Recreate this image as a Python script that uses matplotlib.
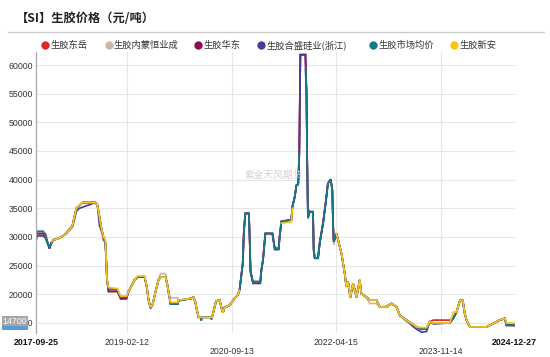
import numpy as np
import pandas as pd
import matplotlib
matplotlib.use('Agg')
import matplotlib.pyplot as plt
from matplotlib.lines import Line2D
from matplotlib.patches import Rectangle
from matplotlib.transforms import blended_transform_factory

nan = np.nan

dates = ['2017-09-25','2017-09-28','2017-11-03','2017-11-15','2017-11-26','2017-12-07','2017-12-18','2017-12-29','2018-01-20','2018-02-11',
 '2018-03-05','2018-03-27','2018-04-13','2018-04-24','2018-05-05','2018-05-22','2018-06-08','2018-08-19','2018-08-30','2018-09-10',
 '2018-09-21','2018-10-02','2018-10-13','2018-10-22','2018-10-30','2018-12-19','2019-01-05','2019-02-07','2019-02-18','2019-03-07',
 '2019-03-23','2019-04-09','2019-05-18','2019-05-29','2019-06-09','2019-06-20','2019-07-01','2019-07-18','2019-08-03','2019-08-14',
 '2019-09-11','2019-09-22','2019-10-03','2019-10-09','2019-11-17','2019-11-22','2020-02-02','2020-02-13','2020-02-24','2020-03-01',
 '2020-03-12','2020-03-23','2020-03-27','2020-04-01','2020-05-18','2020-05-22','2020-05-26','2020-06-03','2020-06-17','2020-07-07',
 '2020-07-18','2020-07-25','2020-08-03','2020-08-31','2020-09-28','2020-10-14','2020-10-25','2020-11-03','2020-11-12','2020-11-18',
 '2020-11-26','2020-12-16','2020-12-20','2020-12-25','2021-01-07','2021-02-17','2021-02-23','2021-03-04','2021-03-17','2021-04-25',
 '2021-05-02','2021-05-08','2021-05-30','2021-06-04','2021-06-14','2021-08-08','2021-08-14','2021-08-27','2021-09-05','2021-09-15',
 '2021-09-21','2021-09-27','2021-10-25','2021-10-31','2021-11-03','2021-11-08','2021-11-18','2021-12-06','2021-12-10','2021-12-16',
 '2022-01-03','2022-01-12','2022-01-31','2022-02-14','2022-02-27','2022-03-14','2022-03-23','2022-03-27','2022-03-31','2022-04-15',
 '2022-05-03','2022-05-13','2022-05-31','2022-06-09','2022-06-18','2022-07-01','2022-07-16','2022-08-04','2022-08-22','2022-08-31',
 '2022-09-28','2022-10-16','2022-11-23','2022-12-11','2023-01-17','2023-02-14','2023-03-14','2023-04-01','2023-05-08','2023-06-05',
 '2023-07-03','2023-07-30','2023-08-27','2023-09-14','2023-10-03','2024-01-03','2024-01-22','2024-02-09','2024-02-28','2024-03-15',
 '2024-03-26','2024-04-05','2024-04-23','2024-07-25','2024-08-30','2024-10-06','2024-11-03','2024-11-12','2024-12-27']

dongyue = [30000, 30600, 30600, 30600, 29200, 28000, 29000, 29500, 29700, 30000,
           30500, 31200, 32000, 33500, 35000, 35500, 36000, 36000, 35500, 33500,
           31500, 29500, 29000, 22500, 20500, 20500, 19500, 19500, 20500, 21500,
           22500, 23000, 23000, 21500, 19000, 17700, 18200, 20500, 22500, 23000,
           23000, 21500, 19500, 18300, 18300, 18900, 19300, 19500, 18500, 17500,
           16000, 16000, 16000, 16000, 16000, 16000, 16000, 17000, 18800, 19000,
           17500, 16800, 17700, 18100, 19300, 19800, 20700, 23000, 25400, 30900,
           34100, 34100, 30000, 23900, 22200, 22200, 24200, 26000, 30600, 30600,
           29200, 28000, 28000, 30000, 32700, 33000, 35300, 37000, 39000, 39200,
           44600, 61800, 61800, 55100, 45200, 34900, 34400, 34400, 27700, 26300,
           26300, 28900, 32700, 35900, 39400, 40000, 38200, 32400, 29200, 30600,
           28300, 27100, 23600, 21300, 22200, 19500, 21900, 19500, 22500, 20100,
           19500, 19000, 19000, 17800, 17800, 18400, 17800, 16300, 15500, 14900,
           14300, 13900, 14000, 15200, 15500, 15500, 15800, 16900, 18900, 18900,
           16600, 15500, 14300, 14300, 14900, 15500, 15800, 14600, 14600]

neimeng = [30000, 30600, 30600, 30000, 29000, 28300, 29000, 29500, 29700, 30000,
           30500, 31500, 32000, 33500, 35000, 35500, 36000, 36000, 35500, 33500,
           31500, 30000, 29000, 22500, 21000, 20800, 19500, 19500, 20500, 21500,
           22500, 23000, 23000, 21500, 19000, 17700, 18200, 20500, 22500, 23600,
           23600, 21500, 19500, 19400, 19400, 18900, 19300, 19500, 18500, 17500,
           16000, 16000, 16000, 16000, 16000, 16000, 16000, 17000, 18800, 19000,
           17500, 16800, 17700, 18100, 19300, 19800, 20700, 23000, 25400, 30900,
           34100, 34100, 30000, 24000, 22200, 22200, 24200, 26000, 30600, 30600,
           29200, 28000, 28000, 30000, 32700, 33000, 35300, 37000, 39000, 39200,
           44600, 61800, 61800, 55100, 45200, 33300, 34400, 34400, 27700, 26300,
           26300, 28900, 32400, 35900, 39400, 40000, 38200, 32400, 28600, 30600,
           28300, 27100, 23600, 21300, 22200, 19500, 21900, 19500, 22500, 20100,
           19500, 18400, 18400, 17800, 18000, 18400, 17800, 16300, 15200, 14900,
           14300, 13900, 14000, 15200, 14900, 15000, 15800, 16900, 18900, 18900,
           16600, 15500, 14300, 14300, 14900, 15500, 15800, 14600, 14400]

huadong = [30000, 30600, 30600, 30000, 29000, 28000, 29000, 29500, 29700, 30000,
           30500, 31200, 32000, 33500, 35000, 35500, 36000, 36000, 35500, 33500,
           31500, 30000, 29000, 22500, 20500, 20500, 19200, 19200, 20500, 21500,
           22500, 23000, 23000, 21500, 19000, 17700, 18200, 20500, 22500, 23000,
           23000, 21500, 19500, 18300, 18300, 18900, 19300, 19500, 18500, 17500,
           16000, 16000, 16000, 16000, 16000, 16000, 16000, 17000, 18800, 19000,
           17500, 16800, 17700, 18100, 19300, 19800, 20700, 23000, 25400, 30900,
           34100, 34100, 30000, 23900, 22200, 22200, 24200, 26000, 30600, 30600,
           29200, 28000, 28000, 30000, 32700, 33000, 35300, 37000, 39000, 39200,
           44600, 61800, 61800, 55100, 45200, 33300, 34400, 34400, 27700, 26300,
           26300, 28900, 32400, 35900, 39400, 40000, 38200, 32400, 29200, 30600,
           28300, 27100, 23600, 21300, 22200, 19500, 21900, 19500, 22500, 20100,
           19500, 19000, 19000, 17800, 17800, 18400, 17800, 16300, 15500, 14900,
           14300, 13900, 14000, 15200, 14900, 15000, 15800, 16900, 18900, 18900,
           16600, 15500, 14300, 14300, 14900, 15500, 15800, 14600, 14600]

hesheng = [29600, 30200, 30200, 29800, 29000, 28000, 29000, 29500, 29700, 30000,
           30500, 31200, 31800, 33000, 34500, 35000, 35200, 36000, 35500, 32000,
           31000, 30000, 29000, 22500, 21000, 20800, 19500, 19500, 20500, 21500,
           22500, 23000, 23000, 21500, 19000, 17500, 18200, 20500, 22500, 23000,
           23000, 21500, 19500, 18300, 18300, 18900, 19300, 19500, 18500, 17500,
           16000, 16000, 16000, 16000, 16000, 16000, 16000, 17000, 18800, 19000,
           17500, 16800, 17700, 18100, 19300, 19800, 20700, 23000, 25400, 30900,
           34100, 34100, 30000, 24000, 21900, 21900, 24200, 26000, 30600, 30600,
           29200, 27800, 27800, 30000, 32700, 33000, 35300, 37000, 39000, 39200,
           44600, 61800, 61800, 55100, 45200, 33300, 34400, 34400, 27700, 26300,
           26300, 28900, 32400, 35900, 39400, 40100, 38200, 32400, 29200, 30600,
           28300, 27100, 23600, 21300, 22200, 19500, 21900, 19500, 22500, 20100,
           19500, 19000, 19000, 17800, 17800, 18400, 17800, 16300, 15500, 14600,
           13900, 13400, 13500, 15200, 14900, 15000, 15800, 16900, 18900, 18900,
           16600, 15500, 14300, 14300, 14900, 15500, 15800, 14600, 14600]

junjia = [29500, 31000, 31000, 30000, 29000, 28300, 29000, 29500, 29700, 30000,
          30500, 31200, 32000, 33500, 35000, 35500, 36000, 36000, 35500, 33500,
          31500, 30000, 29000, 22500, 21000, 20800, 19500, 19500, 20500, 21500,
          22500, 23000, 23000, 21500, 19000, 17700, 18200, 20500, 22500, 23000,
          23000, 21500, 19500, 18300, 18300, 18900, 19300, 19500, 18500, 17500,
          16000, 16000, 15400, 16000, 16000, 15600, 16000, 17000, 18800, 19000,
          17500, 16800, 17700, 18100, 19300, 19800, 20700, 23000, 25400, 30900,
          34100, 34100, 30000, 24000, 22200, 22200, 24200, 26000, 30600, 30600,
          29200, 28000, 28000, 30000, 32700, 33000, 35300, 37000, 39000, 39200,
          44600, nan, 59200, 55100, 45200, 33300, 34400, 34400, 27700, 26300,
          26300, 28900, 32400, 35900, 39400, 40000, 38200, 32400, 29200, 30600,
          28300, 27100, 23600, 21300, 22200, 19500, 21900, 19500, 22500, 20100,
          19500, 19000, 19000, 17800, 17800, 18400, 17800, 16300, 15500, 14900,
          14300, 13900, 14000, 15200, 14900, 15000, 15800, 16900, 18900, 18900,
          16600, 15500, 14300, 14300, 14900, 15500, 15800, 14600, 14700]

xinan = [nan, nan, nan, nan, nan, nan, 29200, 29500, 29700, 30000,
         30500, 31200, 32000, 33500, 35000, 35500, 36000, 36000, 35500, 33500,
         31500, 30000, 29500, 22500, 21200, 21000, 19700, 19700, 20500, 21500,
         22500, 23200, 23200, 21500, 19000, 17700, 18200, 20500, 22500, 23000,
         23000, 21500, 19500, 18600, 18600, 19000, 19300, 19500, 18500, 17500,
         16000, 16000, 16000, 16000, 16000, 16000, 16000, 17000, 18800, 19000,
         17500, 16800, 17700, 18100, 19300, 19800, 20700, nan, nan, nan,
         nan, nan, nan, nan, nan, nan, nan, nan, nan, nan,
         nan, nan, nan, nan, 32400, 32600, 35000, nan, nan, nan,
         nan, nan, nan, nan, nan, nan, nan, nan, nan, nan,
         nan, nan, nan, nan, nan, nan, nan, nan, nan, 30600,
         28300, 27100, 23600, 21300, 22200, 19500, 21900, 19500, 22500, 20100,
         19500, 19000, 19000, 17800, 17800, 18400, 17800, 16300, 15500, 14900,
         14300, 14200, 14200, 15200, 15000, 15000, 16900, 16900, 18900, 18900,
         16600, 15500, 14300, 14300, 14900, 15500, 15800, 15000, 15000]

series_names = ['生胶东岳', '生胶内蒙恒业成', '生胶华东', '生胶合盛硅业(浙江)', '生胶市场均价', '生胶新安']
series_colors = ['#d62a2e', '#c8b9a2', '#8c0c52', '#4a3d9a', '#127c86', '#fbc31c']
series_values = [dongyue, neimeng, huadong, hesheng, junjia, xinan]

x_labels = ['2017-09-25', '2019-02-12', '2020-09-13', '2022-04-15', '2023-11-14', '2024-12-27']
y_ticks = [15000, 20000, 25000, 30000, 35000, 40000, 45000, 50000, 55000, 60000]

title = '【SI】生胶价格（元/吨）'
watermark = '紫金天风期货'

CJK = ['Noto Sans CJK SC', 'DejaVu Sans']
LAT = ['Liberation Sans', 'DejaVu Sans']

W, H = 550, 357
fig = plt.figure(figsize=(W / 100, H / 100), dpi=100)
fig.patch.set_facecolor('white')

def fx(px):
    return px / W

def fy(py):
    return 1 - py / H

ax = fig.add_axes([fx(36.3), fy(333), fx(514.6) - fx(36.3), fy(52) - fy(333)])
d = pd.to_datetime(dates)
for vals, col, nm in zip(series_values, series_colors, series_names):
    ax.plot(d, vals, color=col, lw=1.25, solid_joinstyle='miter', label=nm)

ax.set_xlim(pd.Timestamp(x_labels[0]), pd.Timestamp(x_labels[-1]))
ax.set_ylim(13250, 62270)
ax.set_yticks(y_ticks)
ax.set_yticklabels([str(v) for v in y_ticks], fontsize=6.3, family=LAT, color='#333333')
ax.tick_params(axis='y', length=0, pad=2.5)
ax.set_xticks(pd.to_datetime(x_labels[1:-1]))
ax.tick_params(axis='x', length=0, labelbottom=False)
ax.grid(True, color='#e6e6e6', lw=0.8)
ax.set_axisbelow(True)
for s in ['top', 'right', 'bottom']:
    ax.spines[s].set_visible(False)
ax.spines['left'].set_color('#aaaaaa')
ax.spines['left'].set_linewidth(0.9)

# x labels in two rows
tr = blended_transform_factory(ax.transData, fig.transFigure)
rows = [342.3, 342.3, 351.3, 342.3, 351.3, 342.3]
for i, (lab, ry) in enumerate(zip(x_labels, rows)):
    bold = i == 0 or i == len(x_labels) - 1
    ax.text(pd.Timestamp(lab), fy(ry), lab, transform=tr, ha='center', va='center',
            fontsize=6.3, family=LAT, color='#111111' if bold else '#333333',
            fontweight='bold' if bold else 'normal', clip_on=False)

# title and separator
fig.text(fx(16), fy(18), title, fontsize=8.8, fontweight='bold', family=CJK,
         color='#222222', ha='left', va='center')
fig.add_artist(Line2D([fx(8), fx(544)], [fy(31.7), fy(31.7)], color='#c8c8c8', lw=0.9,
                      transform=fig.transFigure))

# legend
circ_x = [45, 108.5, 198, 260.6, 373, 454]
for cx, col, nm in zip(circ_x, series_colors, series_names):
    fig.add_artist(Line2D([fx(cx)], [fy(45)], marker='o', markersize=6.0, color=col,
                          markeredgewidth=0, linestyle='none', transform=fig.transFigure))
    fig.text(fx(cx + 5.5), fy(45), nm, fontsize=6.7, family=CJK, color='#333333',
             ha='left', va='center')

# watermark
fig.text(fx(274), fy(175), watermark, fontsize=7, family=CJK, color='#d2d2d2',
         ha='center', va='center')

# last value marker label on the y axis
last_val = [v for v in junjia if not np.isnan(v)][-1]
fig.add_artist(Rectangle((fx(2), fy(326.5)), fx(28) - fx(2), fy(316) - fy(326.5),
                         transform=fig.transFigure, facecolor='#a6a6a6', edgecolor='none', zorder=5))
fig.add_artist(Rectangle((fx(2), fy(329.5)), fx(28) - fx(2), fy(326.5) - fy(329.5),
                         transform=fig.transFigure, facecolor='#5b9bd5', edgecolor='none', zorder=5))
fig.text(fx(15), fy(321.3), f'{last_val:.0f}', fontsize=6.3, family=LAT, color='white',
         ha='center', va='center', zorder=6)

fig.savefig('out.png', dpi=100, facecolor='white')
